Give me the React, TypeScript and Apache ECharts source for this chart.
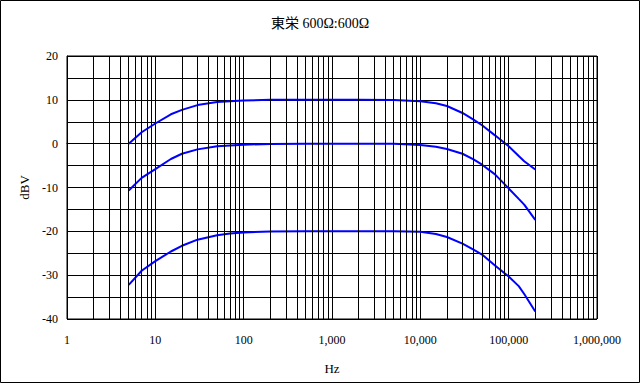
import React, { useEffect, useRef } from "react";
import * as echarts from "echarts";

const freqs = [5, 7, 10, 15, 20, 30, 50, 70, 100, 200, 500, 1000, 2000, 5000, 10000, 15000, 20000, 30000, 40000, 50000, 70000, 100000, 130000, 150000, 200000];
const topLevel = [0, 2.6, 4.6, 6.7, 7.7, 8.8, 9.5, 9.7, 9.85, 10, 10, 10, 10, 9.95, 9.7, 9.2, 8.6, 7.0, 5.5, 4.2, 1.9, -0.6, -2.8, -4.0, -5.9];
const midLevel = [-10.7, -7.8, -5.8, -3.5, -2.3, -1.3, -0.6, -0.4, -0.25, -0.05, 0, 0, 0, 0, -0.3, -0.7, -1.2, -2.3, -3.6, -4.8, -7.0, -10.2, -12.6, -13.9, -17.4];
const lowLevel = [-32.2, -29, -26.8, -24.6, -23.3, -21.9, -20.9, -20.5, -20.25, -20.05, -20, -20, -20, -20, -20.1, -20.6, -21.3, -22.8, -24.2, -25.3, -27.8, -30.3, -32.5, -34.3, -38.3];
const title = "東栄 600Ω:600Ω";

const FONT = "'Liberation Serif', 'Times New Roman', 'Noto Sans CJK JP', serif";

export default function App() {
  const ref = useRef<HTMLDivElement>(null);
  useEffect(() => {
    document.body.style.margin = "0";
    const chart = echarts.init(ref.current!, null, { renderer: "svg" });
    const minor: any[] = [];
    for (let k = 0; k < 6; k++) {
      for (let m = 2; m <= 9; m++) minor.push({ xAxis: m * Math.pow(10, k) });
    }
    const mk = (vals: number[]) => freqs.map((f, i) => [f, vals[i]]);
    const lineSeries = (vals: number[]) => ({
      type: "line",
      data: mk(vals),
      showSymbol: false,
      symbol: "none",
      lineStyle: { color: "#0000ff", width: 2 },
      z: 3,
    });
    chart.setOption({
      animation: false,
      backgroundColor: "#ffffff",
      title: {
        text: title,
        left: "center",
        top: 11,
        textStyle: { fontFamily: FONT, fontSize: 14, fontWeight: "normal", color: "#000" },
      },
      graphic: [
        {
          type: "rect",
          shape: { x: 0.5, y: 0.5, width: 639, height: 382 },
          style: { fill: "none", stroke: "#000", lineWidth: 1 },
        },
      ],
      grid: { left: 67, right: 43, top: 56, bottom: 64, show: true, borderColor: "#000", borderWidth: 1 },
      xAxis: {
        type: "log",
        logBase: 10,
        min: 1,
        max: 1000000,
        interval: 1,
        name: "Hz",
        nameLocation: "middle",
        nameGap: 43,
        nameTextStyle: { fontFamily: FONT, fontSize: 13, color: "#000" },
        axisLine: { show: true, lineStyle: { color: "#000" } },
        axisTick: { show: false },
        axisLabel: {
          fontFamily: FONT,
          fontSize: 12,
          color: "#000",
          margin: 15,
          formatter: (v: number) => Math.round(v).toLocaleString("en-US"),
        },
        splitLine: { show: true, lineStyle: { color: "#000", width: 1 } },
      },
      yAxis: {
        type: "value",
        min: -40,
        max: 20,
        interval: 5,
        name: "dBV",
        nameLocation: "middle",
        nameGap: 35,
        nameRotate: 90,
        nameTextStyle: { fontFamily: FONT, fontSize: 13, color: "#000" },
        axisLine: { show: true, lineStyle: { color: "#000" } },
        axisTick: { show: false },
        axisLabel: {
          fontFamily: FONT,
          fontSize: 12,
          color: "#000",
          margin: 9,
          formatter: (v: number) => (v % 10 === 0 ? String(v) : ""),
        },
        splitLine: { show: true, lineStyle: { color: "#000", width: 1 } },
      },
      series: [
        {
          type: "line",
          data: [[1, -40]],
          showSymbol: false,
          symbol: "none",
          lineStyle: { opacity: 0 },
          z: 1,
          silent: true,
          markLine: {
            silent: true,
            symbol: "none",
            label: { show: false },
            lineStyle: { color: "#000", width: 1, type: "solid" },
            data: minor,
          },
        },
        lineSeries(topLevel),
        lineSeries(midLevel),
        lineSeries(lowLevel),
      ],
    });
    return () => chart.dispose();
  }, []);
  return <div ref={ref} style={{ width: 640, height: 383 }} />;
}
